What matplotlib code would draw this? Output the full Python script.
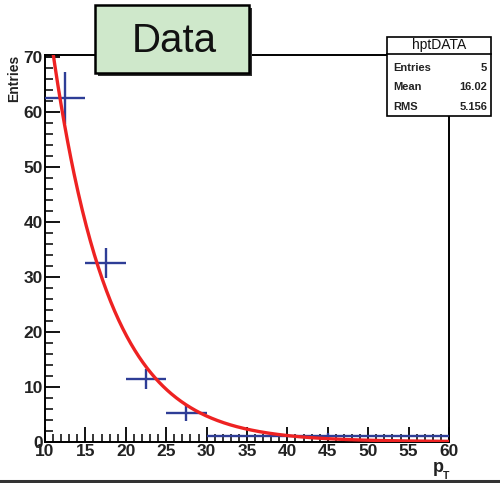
import matplotlib
matplotlib.use("Agg")
import matplotlib.pyplot as plt
from matplotlib.patches import Rectangle
from matplotlib.lines import Line2D
from matplotlib.ticker import MultipleLocator
import numpy as np

# histogram hptDATA (variable bins in pT)
pt_edges = [10, 15, 20, 25, 30, 60]
counts = [62.5, 32.5, 11.4, 5.2, 1.0]
errors = [4.7, 2.7, 1.75, 1.4, 0.55]

# expo fit: exp(p0 + p1*x)
fit_p0 = 5.83
fit_p1 = -0.143

stats_labels = ["Entries", "Mean", "RMS"]
stats_values = ["5", "16.02", "5.156"]

W, H = 500, 483
blue = "#2e3d96"
red = "#ee2222"
font = "Liberation Sans"

plt.rcParams["font.family"] = [font, "DejaVu Sans"]

fig = plt.figure(figsize=(W / 100, H / 100), dpi=100)
fig.patch.set_facecolor("white")


def fx(x):
    return x / W


def fy(y):
    return 1 - y / H


# axes frame in pixels: left 45, right 449, top 55, bottom 441.7
ax = fig.add_axes([fx(45), fy(441.7), fx(449) - fx(45), fy(55) - fy(441.7)])

edges = np.array(pt_edges, dtype=float)
centers = (edges[:-1] + edges[1:]) / 2
half = (edges[1:] - edges[:-1]) / 2
ax.errorbar(centers, counts, xerr=half, yerr=errors, fmt="none",
            ecolor=blue, elinewidth=1.7, capsize=0, zorder=3)

xf = np.linspace(10, 60, 500)
ax.plot(xf, np.exp(fit_p0 + fit_p1 * xf), color=red, lw=2.4, zorder=4)

ax.set_xlim(10, 60)
ax.set_ylim(0, 70.3)
ax.xaxis.set_major_locator(MultipleLocator(5))
ax.xaxis.set_minor_locator(MultipleLocator(1))
ax.yaxis.set_major_locator(MultipleLocator(10))
ax.yaxis.set_minor_locator(MultipleLocator(2))
ax.tick_params(which="major", direction="in", length=11, width=1.3,
               labelsize=12.5, pad=1.5, top=False, right=False)
ax.tick_params(which="minor", direction="in", length=5.5, width=1.1,
               top=False, right=False)
for lab in ax.get_xticklabels() + ax.get_yticklabels():
    lab.set_fontweight("bold")
    lab.set_color("#222222")
for s in ax.spines.values():
    s.set_linewidth(1.4)

# axis titles
fig.text(fx(14.5), fy(55), "Entries", rotation=90, ha="center", va="top",
         fontsize=10, fontweight="bold", color="#222222")
fig.text(fx(438), fy(468), "p", ha="center", va="center",
         fontsize=13, fontweight="bold", color="#222222")
fig.text(fx(446), fy(476), "T", ha="center", va="center",
         fontsize=7.5, fontweight="bold", color="#222222")

# title box with shadow
bx0, by0, bx1, by1 = 95, 5, 249, 73
fig.patches.append(Rectangle((fx(bx0 + 3), fy(by1 + 3)), fx(bx1 - bx0), fy(by0) - fy(by1),
                             transform=fig.transFigure, facecolor="#333333",
                             edgecolor="none", zorder=5))
fig.patches.append(Rectangle((fx(bx0), fy(by1)), fx(bx1 - bx0), fy(by0) - fy(by1),
                             transform=fig.transFigure, facecolor="#cfe8cb",
                             edgecolor="black", lw=1.8, zorder=6))
fig.text(fx(174), fy(41), "Data", ha="center", va="center", fontsize=29,
         color="#111111", zorder=7)

# stats box
sx0, sy0, sx1, sy1 = 387, 37, 491, 116
fig.patches.append(Rectangle((fx(sx0), fy(sy1)), fx(sx1 - sx0), fy(sy0) - fy(sy1),
                             transform=fig.transFigure, facecolor="white",
                             edgecolor="black", lw=1.2, zorder=6))
fig.lines.append(Line2D([fx(sx0), fx(sx1)], [fy(54), fy(54)],
                        transform=fig.transFigure, color="black", lw=1.2, zorder=7))
fig.text(fx((sx0 + sx1) / 2), fy(45.5), "hptDATA", ha="center", va="center",
         fontsize=10, color="#111111", zorder=8)
for i, (lab, val) in enumerate(zip(stats_labels, stats_values)):
    yy = 68 + i * 19.5
    fig.text(fx(393), fy(yy), lab, ha="left", va="center", fontsize=8,
             fontweight="bold", color="#222222", zorder=8)
    fig.text(fx(487), fy(yy), val, ha="right", va="center", fontsize=8,
             fontweight="bold", color="#222222", zorder=8)

# pad border at the bottom
fig.lines.append(Line2D([0, 1], [fy(480.5), fy(480.5)], transform=fig.transFigure,
                        color="#333333", lw=2.2))

fig.savefig("out.png", dpi=100)
